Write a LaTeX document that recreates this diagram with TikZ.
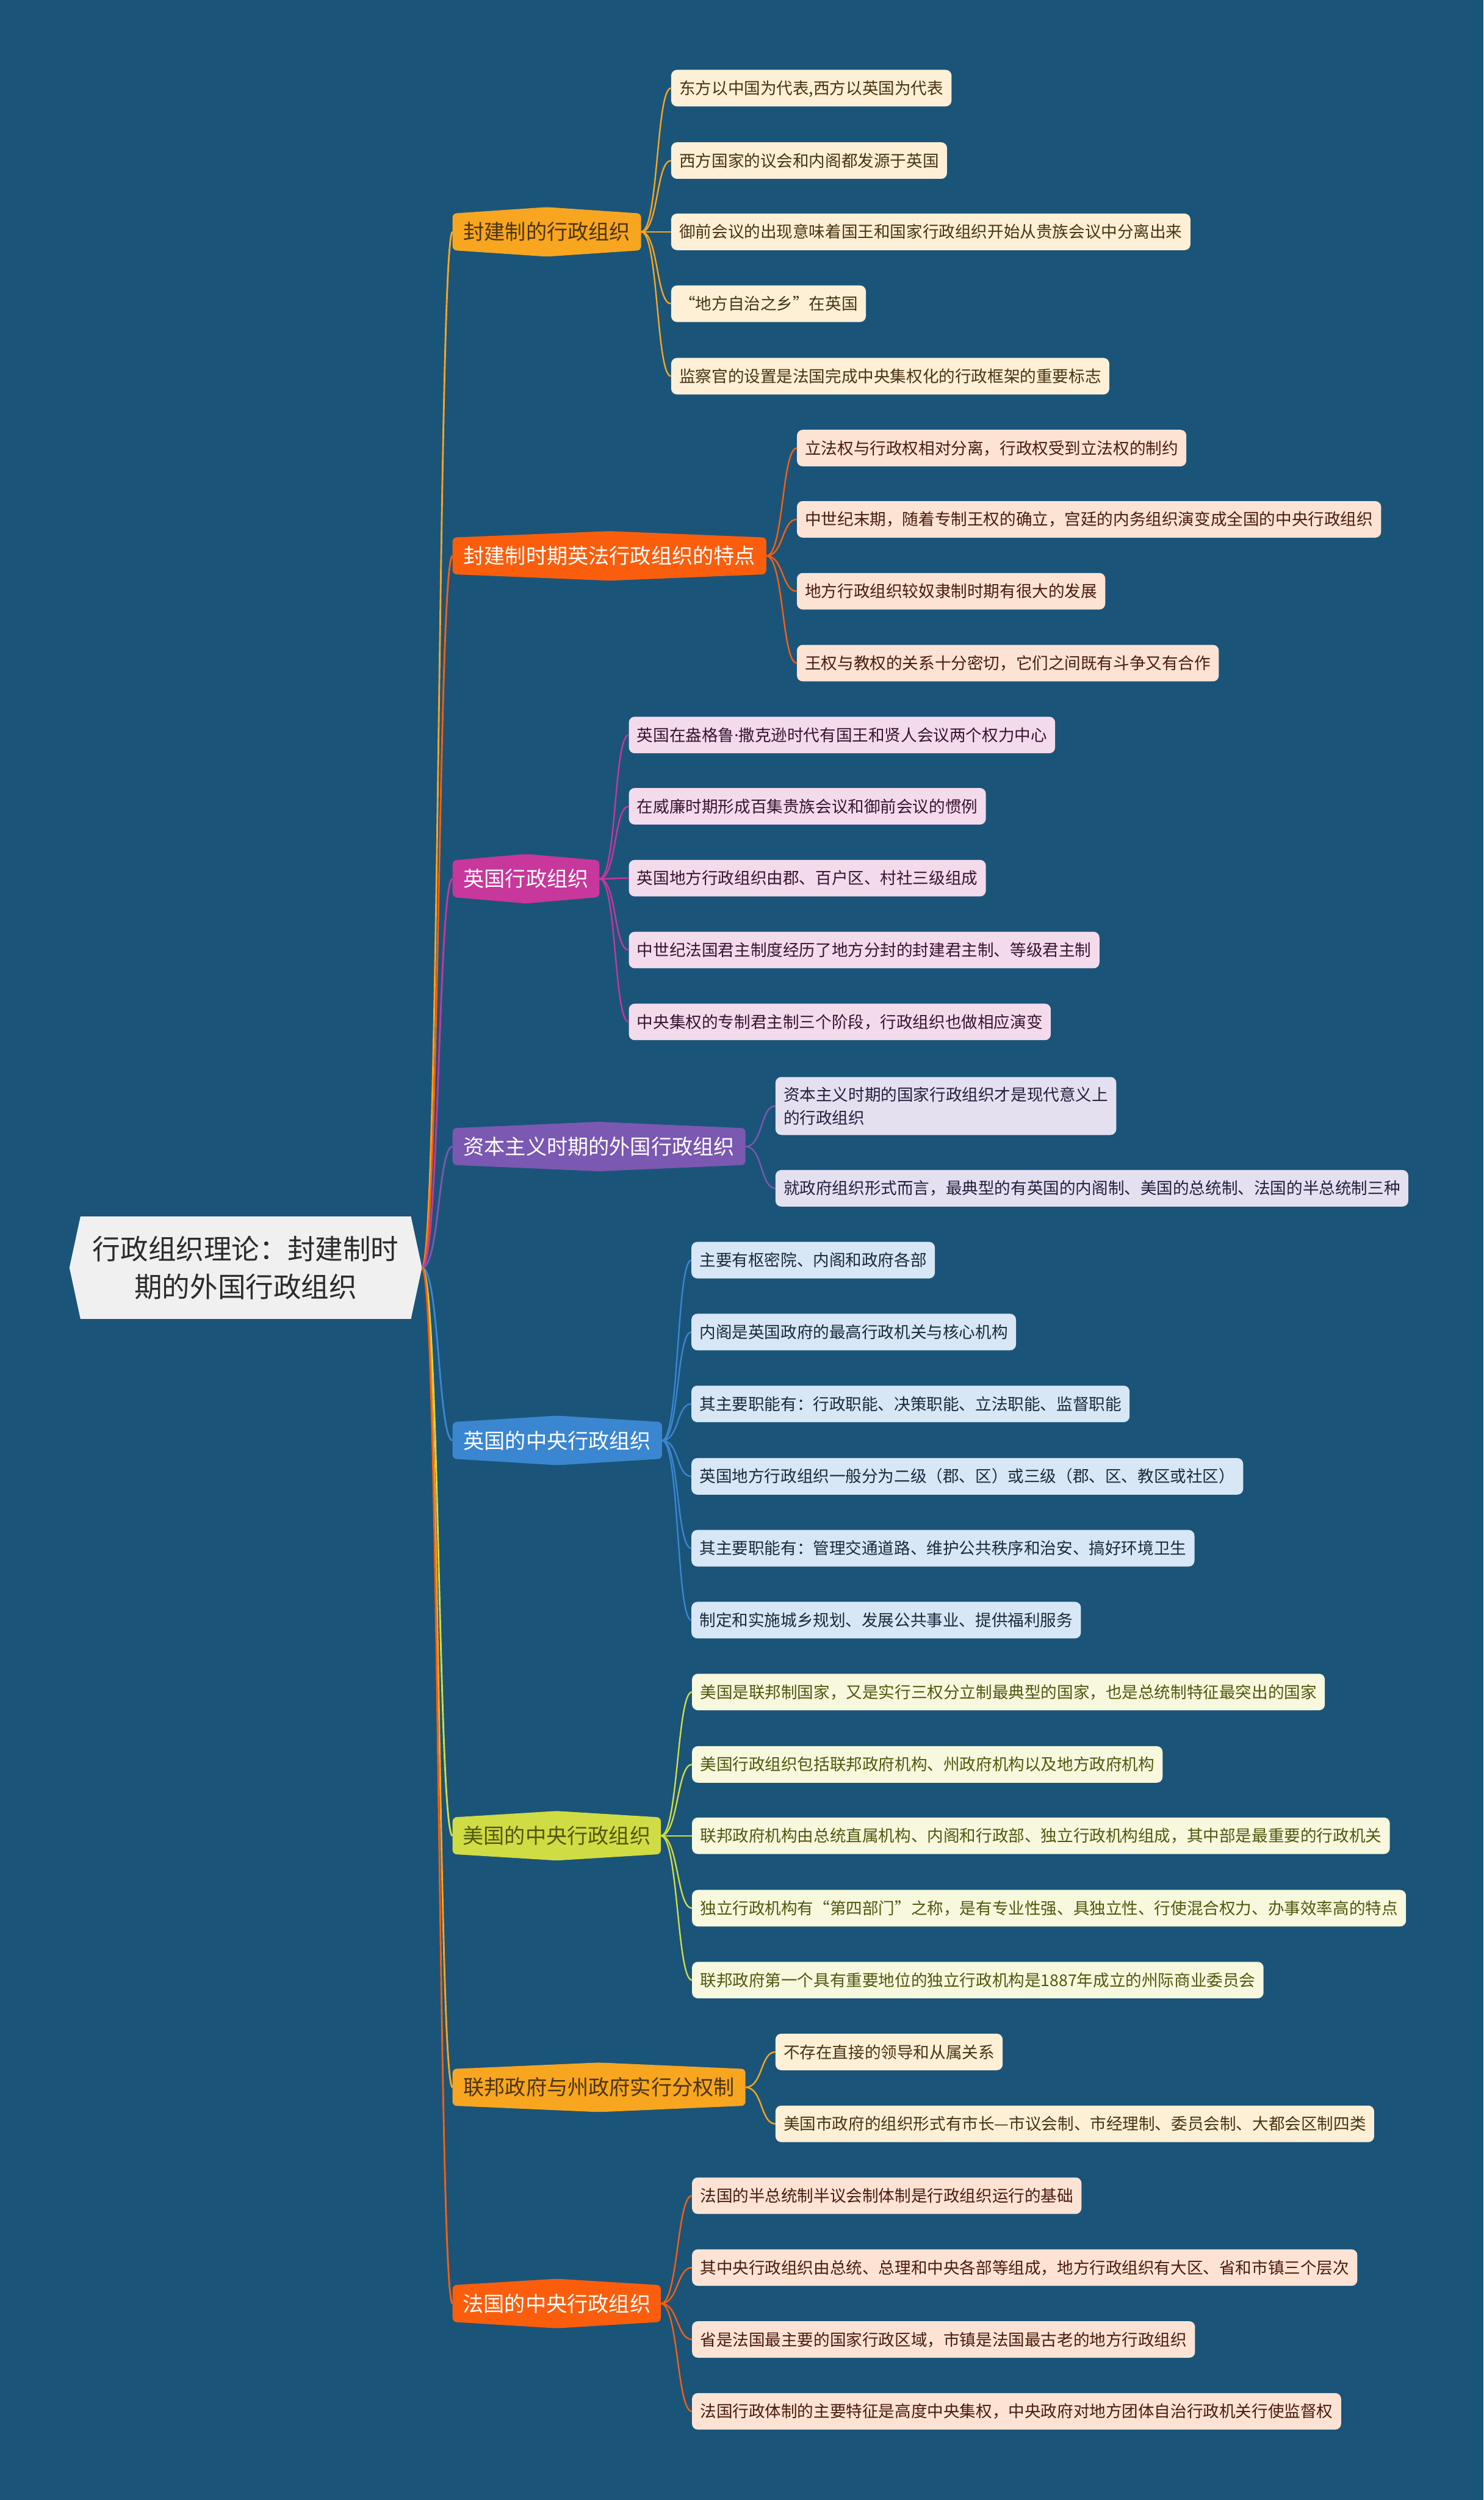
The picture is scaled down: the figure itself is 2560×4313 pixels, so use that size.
\documentclass[tikz,border=0pt]{standalone}
\usepackage{fontspec}
\setmainfont{Noto Sans CJK SC}
\newfontfamily\latinfont{Noto Sans}
\usetikzlibrary{positioning}

\pgfdeclarelayer{back}
\pgfdeclarelayer{mid}
\pgfsetlayers{back,mid,main}

\definecolor{bgc}{HTML}{1B5479}
\definecolor{rootfill}{HTML}{F0F0F0}
\definecolor{roottext}{HTML}{2B2B2B}
\definecolor{orA}{HTML}{F8A61F}
\definecolor{orAleaf}{HTML}{FDF0D6}
\definecolor{orAtext}{HTML}{4A3412}
\definecolor{orB}{HTML}{FA5E0D}
\definecolor{orBleaf}{HTML}{FDE3D4}
\definecolor{orBtext}{HTML}{4A1C0C}
\definecolor{mag}{HTML}{C8379B}
\definecolor{magleaf}{HTML}{F4DBEC}
\definecolor{magtext}{HTML}{38142F}
\definecolor{pur}{HTML}{7B58B1}
\definecolor{purleaf}{HTML}{E5E0F0}
\definecolor{purtext}{HTML}{261E3C}
\definecolor{blu}{HTML}{3A86D0}
\definecolor{bluleaf}{HTML}{D8E7F5}
\definecolor{blutext}{HTML}{1A2A3E}
\definecolor{yel}{HTML}{D0DC43}
\definecolor{yelleaf}{HTML}{F7F8DD}
\definecolor{yeltext}{HTML}{52570F}

% pointed box behind a branch node
\newcommand{\hexbox}[2]{%
  \begin{pgfonlayer}{mid}
    \fill[#2, rounded corners=7pt] (#1.south west) -- (#1.north west) -- ([yshift=11pt]#1.north)
      -- (#1.north east) -- (#1.south east) -- ([yshift=-11pt]#1.south) -- cycle;
  \end{pgfonlayer}}

\tikzset{
  leaf/.style={rectangle, rounded corners=10pt, anchor=west, minimum height=63pt,
    inner xsep=14pt, inner ysep=0pt, text height=24.6pt, text depth=3.4pt,
    font=\fontsize{28pt}{36pt}\selectfont},
  branch/.style={rectangle, anchor=west, minimum height=63pt, inner xsep=17pt,
    inner ysep=0pt, text height=31.7pt, text depth=4.3pt,
    font=\fontsize{36pt}{44pt}\selectfont},
  trunk/.style={line width=3pt},
  link/.style={line width=2.5pt},
}

\begin{document}
\begin{tikzpicture}[x=1pt, y=-1pt]
  \begin{pgfonlayer}{back}
    \fill[bgc] (0,0) rectangle (2560,4313);
  \end{pgfonlayer}
  \useasboundingbox (0,0) rectangle (2560,4313);

  % root
  \node[rectangle, minimum width=570pt, minimum height=176pt, align=center,
    text=roottext, font=\fontsize{48pt}{65pt}\selectfont] (root) at (424,2187)
    {行政组织理论：封建制时\\期的外国行政组织};
  \begin{pgfonlayer}{mid}
    \fill[rootfill] (root.south west) -- ([xshift=-19pt]root.west) -- (root.north west)
      -- (root.north east) -- ([xshift=19pt]root.east) -- (root.south east) -- cycle;
  \end{pgfonlayer}
  \coordinate (roottip) at ([xshift=19pt]root.east);

  % branches
  \node[branch, minimum width=325pt, text=orAtext] (b1) at (781,400) {封建制的行政组织};
  \node[branch, minimum width=541pt, text=white] (b2) at (781,959) {封建制时期英法行政组织的特点};
  \node[branch, minimum width=253pt, text=white] (b3) at (781,1516) {英国行政组织};
  \node[branch, minimum width=505pt, text=white] (b4) at (781,1978) {资本主义时期的外国行政组织};
  \node[branch, minimum width=361pt, text=white] (b5) at (781,2485) {英国的中央行政组织};
  \node[branch, minimum width=359pt, text=yeltext] (b6) at (781,3167) {美国的中央行政组织};
  \node[branch, minimum width=505pt, text=orAtext] (b7) at (781,3601) {联邦政府与州政府实行分权制};
  \node[branch, minimum width=359pt, text=white] (b8) at (781,3974) {法国的中央行政组织};
  \hexbox{b1}{orA}
  \hexbox{b2}{orB}
  \hexbox{b3}{mag}
  \hexbox{b4}{pur}
  \hexbox{b5}{blu}
  \hexbox{b6}{yel}
  \hexbox{b7}{orA}
  \hexbox{b8}{orB}

  % leaves
  \node[leaf, fill=orAleaf, text=orAtext] (b1l1) at (1158,152) {东方以中国为代表,西方以英国为代表};
  \node[leaf, fill=orAleaf, text=orAtext] (b1l2) at (1158,277) {西方国家的议会和内阁都发源于英国};
  \node[leaf, fill=orAleaf, text=orAtext] (b1l3) at (1158,400) {御前会议的出现意味着国王和国家行政组织开始从贵族会议中分离出来};
  \node[leaf, fill=orAleaf, text=orAtext] (b1l4) at (1158,524) {“地方自治之乡”在英国};
  \node[leaf, fill=orAleaf, text=orAtext] (b1l5) at (1158,649) {监察官的设置是法国完成中央集权化的行政框架的重要标志};

  \node[leaf, fill=orBleaf, text=orBtext] (b2l1) at (1375,773) {立法权与行政权相对分离，行政权受到立法权的制约};
  \node[leaf, fill=orBleaf, text=orBtext] (b2l2) at (1375,896) {中世纪末期，随着专制王权的确立，宫廷的内务组织演变成全国的中央行政组织};
  \node[leaf, fill=orBleaf, text=orBtext] (b2l3) at (1375,1020) {地方行政组织较奴隶制时期有很大的发展};
  \node[leaf, fill=orBleaf, text=orBtext] (b2l4) at (1375,1144) {王权与教权的关系十分密切，它们之间既有斗争又有合作};

  \node[leaf, fill=magleaf, text=magtext] (b3l1) at (1085,1268) {英国在盎格鲁{\latinfont ·}撒克逊时代有国王和贤人会议两个权力中心};
  \node[leaf, fill=magleaf, text=magtext] (b3l2) at (1085,1391) {在威廉时期形成百集贵族会议和御前会议的惯例};
  \node[leaf, fill=magleaf, text=magtext] (b3l3) at (1085,1515) {英国地方行政组织由郡、百户区、村社三级组成};
  \node[leaf, fill=magleaf, text=magtext] (b3l4) at (1085,1639) {中世纪法国君主制度经历了地方分封的封建君主制、等级君主制};
  \node[leaf, fill=magleaf, text=magtext] (b3l5) at (1085,1763) {中央集权的专制君主制三个阶段，行政组织也做相应演变};

  \node[leaf, fill=purleaf, text=purtext, align=left, text height=, text depth=,
    minimum height=100pt, font=\fontsize{28pt}{40pt}\selectfont] (b4l1) at (1338,1908)
    {资本主义时期的国家行政组织才是现代意义上\\的行政组织};
  \node[leaf, fill=purleaf, text=purtext] (b4l2) at (1338,2050) {就政府组织形式而言，最典型的有英国的内阁制、美国的总统制、法国的半总统制三种};

  \node[leaf, fill=bluleaf, text=blutext] (b5l1) at (1193,2174) {主要有枢密院、内阁和政府各部};
  \node[leaf, fill=bluleaf, text=blutext] (b5l2) at (1193,2298) {内阁是英国政府的最高行政机关与核心机构};
  \node[leaf, fill=bluleaf, text=blutext] (b5l3) at (1193,2422) {其主要职能有：行政职能、决策职能、立法职能、监督职能};
  \node[leaf, fill=bluleaf, text=blutext] (b5l4) at (1193,2547) {英国地方行政组织一般分为二级（郡、区）或三级（郡、区、教区或社区）};
  \node[leaf, fill=bluleaf, text=blutext] (b5l5) at (1193,2671) {其主要职能有：管理交通道路、维护公共秩序和治安、搞好环境卫生};
  \node[leaf, fill=bluleaf, text=blutext] (b5l6) at (1193,2795) {制定和实施城乡规划、发展公共事业、提供福利服务};

  \node[leaf, fill=yelleaf, text=yeltext] (b6l1) at (1194,2919) {美国是联邦制国家，又是实行三权分立制最典型的国家，也是总统制特征最突出的国家};
  \node[leaf, fill=yelleaf, text=yeltext] (b6l2) at (1194,3044) {美国行政组织包括联邦政府机构、州政府机构以及地方政府机构};
  \node[leaf, fill=yelleaf, text=yeltext] (b6l3) at (1194,3167) {联邦政府机构由总统直属机构、内阁和行政部、独立行政机构组成，其中部是最重要的行政机关};
  \node[leaf, fill=yelleaf, text=yeltext] (b6l4) at (1194,3292) {独立行政机构有“第四部门”之称，是有专业性强、具独立性、行使混合权力、办事效率高的特点};
  \node[leaf, fill=yelleaf, text=yeltext] (b6l5) at (1194,3416) {联邦政府第一个具有重要地位的独立行政机构是1887年成立的州际商业委员会};

  \node[leaf, fill=orAleaf, text=orAtext] (b7l1) at (1338,3540) {不存在直接的领导和从属关系};
  \node[leaf, fill=orAleaf, text=orAtext] (b7l2) at (1338,3664) {美国市政府的组织形式有市长—市议会制、市经理制、委员会制、大都会区制四类};

  \node[leaf, fill=orBleaf, text=orBtext] (b8l1) at (1194,3788) {法国的半总统制半议会制体制是行政组织运行的基础};
  \node[leaf, fill=orBleaf, text=orBtext] (b8l2) at (1194,3912) {其中央行政组织由总统、总理和中央各部等组成，地方行政组织有大区、省和市镇三个层次};
  \node[leaf, fill=orBleaf, text=orBtext] (b8l3) at (1194,4036) {省是法国最主要的国家行政区域，市镇是法国最古老的地方行政组织};
  \node[leaf, fill=orBleaf, text=orBtext] (b8l4) at (1194,4160) {法国行政体制的主要特征是高度中央集权，中央政府对地方团体自治行政机关行使监督权};

  % trunk lines
  \foreach \b/\c in {b1/orA, b2/orB, b3/mag, b4/pur, b5/blu, b6/yel, b7/orA, b8/orB}
    \draw[trunk, \c] (roottip) .. controls +(30,0) and +(-25,0) .. (\b.west);

  % leaf lines
  \foreach \b/\c/\n in {b1/orA/5, b2/orB/4, b3/mag/5, b4/pur/2, b5/blu/6, b6/yel/5, b7/orA/2, b8/orB/4}
    \foreach \i in {1,...,\n}
      \draw[link, \c] (\b.east) .. controls +(30,0) and +(-26,0) .. (\b l\i.west);
\end{tikzpicture}
\end{document}
